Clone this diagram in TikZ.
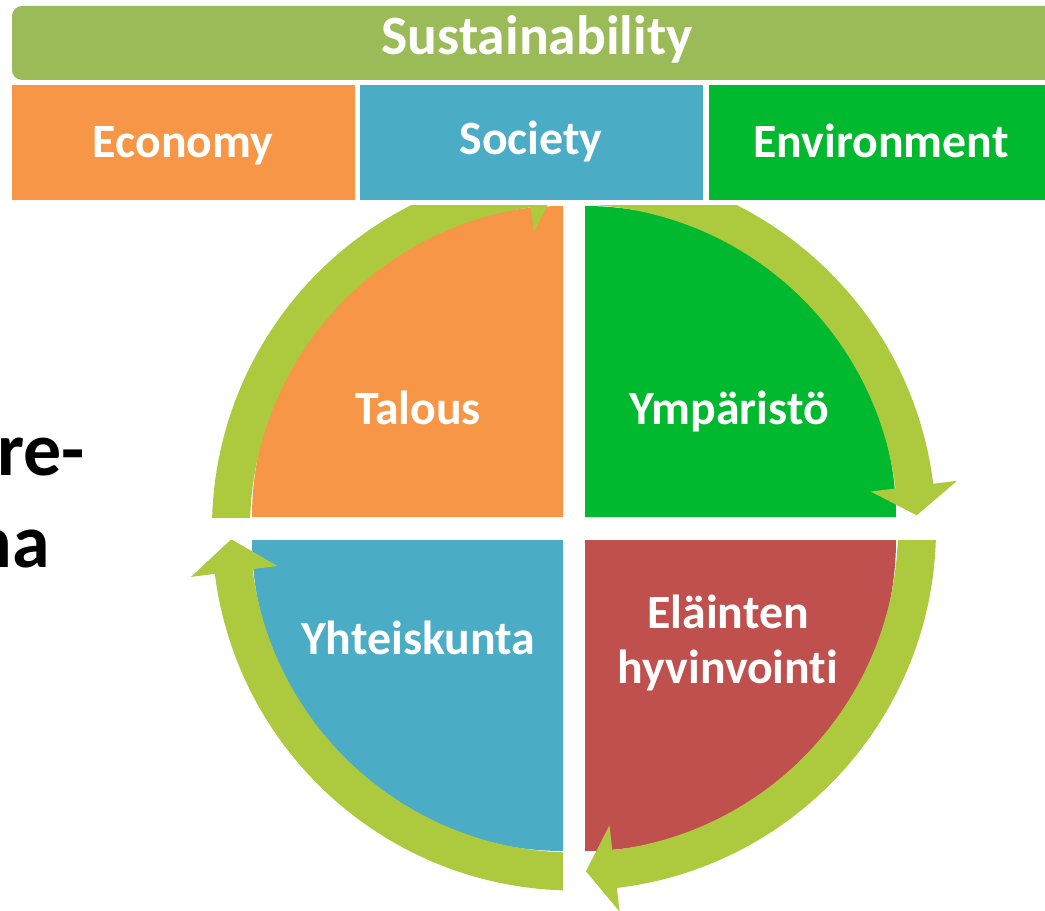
\documentclass[tikz,border=0pt]{standalone}
\usepackage{fontspec}
\setmainfont{Carlito}[Ligatures=NoCommon]
\definecolor{sustgreen}{HTML}{9BBB59}
\definecolor{ecoorange}{HTML}{F79646}
\definecolor{socblue}{HTML}{4BACC6}
\definecolor{envgreen}{HTML}{00B92F}
\definecolor{animred}{HTML}{C0504D}
\definecolor{ringgreen}{HTML}{ADC93D}

\begin{document}
\begin{tikzpicture}[x=0.025cm,y=0.025cm,
    word/.style={text=white,font=\fontsize{34}{39.1}\selectfont\bfseries,inner sep=0pt,anchor=base,align=center},
    ring/.style={fill=ringgreen}]
    \useasboundingbox (0,0) rectangle (1045,910);
    \clip (0,0) rectangle (1045,910);
    % header bars
    \fill[sustgreen, rounded corners=0.25cm] (12,830) rectangle (1075,904);
    \node[word, font=\fontsize{39.5}{47}\selectfont\bfseries] (sust) at (537,855) {Sustainability};
    \fill[ecoorange] (12,710) rectangle (355,825);
    \fill[socblue] (360,710) rectangle (703,825);
    \fill[envgreen] (709,710) rectangle (1045,825);
    \node[word] (eco) at (183,752) {Economy};
    \node[word] (soc) at (531,755) {Society};
    \node[word] (env) at (881,752) {Environment};
    % left text, cut at the edge
    \node[font=\fontsize{54}{65}\selectfont\bfseries,inner sep=0pt,anchor=base east] (re) at (85,435) {re-};
    \node[font=\fontsize{54}{65}\selectfont\bfseries,inner sep=0pt,anchor=base east] (na) at (50,343) {na};
    % quadrants
    \fill[ecoorange] (563,393) -- (252,393) arc[start angle=180,end angle=90,radius=311] -- cycle;
    \fill[envgreen] (585,393) -- (585,704) arc[start angle=90,end angle=0,radius=311] -- cycle;
    \fill[animred] (585,370) -- (896,370) arc[start angle=0,end angle=-90,radius=311] -- cycle;
    \fill[socblue] (563,370) -- (563,59) arc[start angle=-90,end angle=-180,radius=311] -- cycle;
    % ring arrows
    \begin{scope}
        \clip (0,393) rectangle (563,704);
        \fill[ring, shift={(574,381.5)}] (180:362) arc[start angle=180,end angle=97.7,radius=362] -- (97.7:386) -- (92.8:343) -- (97.7:299) -- (97.7:324) arc[start angle=97.7,end angle=180,radius=324] -- cycle;
    \end{scope}
    \begin{scope}
        \clip (585,393) rectangle (1045,704);
        \fill[ring, shift={(574,381.5)}] (90:362) arc[start angle=90,end angle=7.1,radius=362] -- (7.1:386) -- (2.2:343) -- (7.1:299) -- (7.1:324) arc[start angle=7.1,end angle=90,radius=324] -- cycle;
    \end{scope}
    \begin{scope}
        \clip (585,0) rectangle (1045,370);
        \fill[ring, shift={(574,381.5)}] (0:362) arc[start angle=0,end angle=-83.2,radius=362] -- (-83.2:386) -- (-88:343) -- (-83.2:299) -- (-83.2:324) arc[start angle=-83.2,end angle=0,radius=324] -- cycle;
    \end{scope}
    \begin{scope}
        \clip (0,0) rectangle (563,370);
        \fill[ring, shift={(574,381.5)}] (-90:362) arc[start angle=-90,end angle=-172.8,radius=362] -- (-172.8:386) -- (-178.2:343) -- (-172.8:299) -- (-172.8:324) arc[start angle=-172.8,end angle=-90,radius=324] -- cycle;
    \end{scope}
    % quadrant labels
    \node[word] (tal) at (418,486) {Talous};
    \node[word] (ymp) at (729,486) {Ympäristö};
    \node[word] (yht) at (418,256) {Yhteiskunta};
    \node[word] (ela) at (728,227) {Eläinten\\hyvinvointi};
\end{tikzpicture}
\end{document}
